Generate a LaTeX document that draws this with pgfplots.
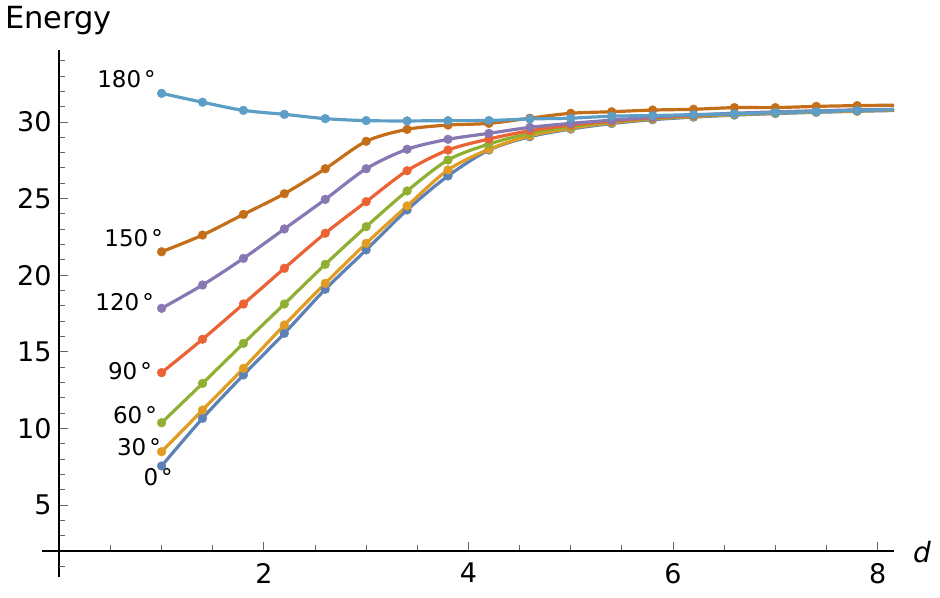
\documentclass[border=0pt]{standalone}
\usepackage{pgfplots}
\pgfplotsset{compat=1.18}
\usepackage{pgfplotstable}
\usepackage{fontspec}
\setmainfont{DejaVu Sans}
\definecolor{c0}{HTML}{5E81B5}
\definecolor{c30}{HTML}{E19C24}
\definecolor{c60}{HTML}{8FB032}
\definecolor{c90}{HTML}{EB6235}
\definecolor{c120}{HTML}{8778B3}
\definecolor{c150}{HTML}{C56E1A}
\definecolor{c180}{HTML}{5D9EC7}
\pgfplotstableread{
d    a0    a30   a60   a90   a120  a150  a180
1.0  7.55  8.48  10.37 13.64 17.84 21.53 31.87
1.4  10.66 11.20 12.94 15.82 19.36 22.62 31.29
1.8  13.49 13.92 15.55 18.12 21.10 23.97 30.76
2.2  16.21 16.75 18.12 20.45 23.02 25.32 30.50
2.6  19.08 19.47 20.71 22.74 24.95 26.95 30.22
3.0  21.65 22.08 23.17 24.80 26.95 28.74 30.09
3.4  24.26 24.52 25.50 26.82 28.22 29.52 30.07
3.8  26.48 26.87 27.52 28.17 28.87 29.80 30.09
4.2  28.17 28.22 28.56 28.89 29.26 29.91 30.10
4.6  29.04 29.10 29.26 29.43 29.65 30.25 30.20
5.0  29.54 29.60 29.70 29.80 29.91 30.57 30.25
5.4  29.90 29.95 30.00 30.05 30.12 30.67 30.38
5.8  30.15 30.20 30.22 30.27 30.32 30.78 30.42
6.2  30.32 30.36 30.38 30.42 30.46 30.83 30.48
6.6  30.45 30.48 30.50 30.53 30.57 30.94 30.53
7.0  30.55 30.58 30.60 30.62 30.66 30.94 30.62
7.4  30.63 30.66 30.68 30.70 30.73 31.02 30.68
7.8  30.70 30.72 30.74 30.76 30.79 31.07 30.76
8.16 30.75 30.77 30.79 30.80 30.83 31.10 30.80
}\datatable
\pgfplotsset{
  ln/.style={color=#1, line width=3.2bp, smooth, tension=0.5, no marks},
  mk/.style={color=#1, only marks, mark=*, mark size=4.4bp, restrict x to domain=0:7.9},
}
\begin{document}
\begin{tikzpicture}
\useasboundingbox (0,0) rectangle (940bp,598bp);
\begin{axis}[
  at={(59.3bp,47bp)}, anchor=south west,
  scale only axis, width=834.7bp, height=501bp,
  xmin=0, xmax=8.16, ymin=2, ymax=34.7,
  axis lines=left,
  axis line style={-, black, line width=1.8bp},
  clip=false,
  xtick={2,4,6,8},
  minor xtick={0.5,1,1.5,2.5,3,3.5,4.5,5,5.5,6.5,7,7.5},
  ytick={5,10,15,20,25,30},
  minor ytick={3,4,6,7,8,9,11,12,13,14,16,17,18,19,21,22,23,24,26,27,28,29,31,32,33,34},
  tick align=inside,
  major tick length=9bp, minor tick length=5.5bp,
  tick style={gray!80!black, line width=1bp},
  /pgf/number format/assume math mode=true,
  tick label style={font=\fontsize{27bp}{32bp}\selectfont, inner sep=0pt},
  xticklabel style={anchor=north, yshift=-12bp},
  yticklabel style={anchor=east, xshift=-7.5bp},
]
\addplot[ln=c0] table[x=d, y=a0] {\datatable};
\addplot[mk=c0] table[x=d, y=a0] {\datatable};
\addplot[ln=c30] table[x=d, y=a30] {\datatable};
\addplot[mk=c30] table[x=d, y=a30] {\datatable};
\addplot[ln=c60] table[x=d, y=a60] {\datatable};
\addplot[mk=c60] table[x=d, y=a60] {\datatable};
\addplot[ln=c90] table[x=d, y=a90] {\datatable};
\addplot[mk=c90] table[x=d, y=a90] {\datatable};
\addplot[ln=c120] table[x=d, y=a120] {\datatable};
\addplot[mk=c120] table[x=d, y=a120] {\datatable};
\addplot[ln=c150] table[x=d, y=a150] {\datatable};
\addplot[mk=c150] table[x=d, y=a150] {\datatable};
\addplot[ln=c180] table[x=d, y=a180] {\datatable};
\addplot[mk=c180] table[x=d, y=a180] {\datatable};
\node[anchor=east, inner sep=0pt, font=\fontsize{23bp}{27bp}\selectfont] at (axis cs:0.945,32.81) {180\kern3bp°};
\node[anchor=east, inner sep=0pt, font=\fontsize{23bp}{27bp}\selectfont] at (axis cs:1.014,22.43) {150\kern3bp°};
\node[anchor=east, inner sep=0pt, font=\fontsize{23bp}{27bp}\selectfont] at (axis cs:0.926,18.25) {120\kern3bp°};
\node[anchor=east, inner sep=0pt, font=\fontsize{23bp}{27bp}\selectfont] at (axis cs:0.906,13.75) {90\kern3bp°};
\node[anchor=east, inner sep=0pt, font=\fontsize{23bp}{27bp}\selectfont] at (axis cs:0.955,10.87) {60\kern3bp°};
\node[anchor=east, inner sep=0pt, font=\fontsize{23bp}{27bp}\selectfont] at (axis cs:0.994,8.75) {30\kern3bp°};
\node[anchor=east, inner sep=0pt, font=\fontsize{23bp}{27bp}\selectfont] at (axis cs:1.111,6.83) {0\kern3bp°};
\end{axis}
\draw[black, line width=1.8bp] (59.3bp,47bp) -- (59.3bp,21bp);
\draw[black, line width=1.8bp] (42bp,47bp) -- (59.3bp,47bp);
\draw[gray!80!black, line width=1bp] (59.3bp,31.7bp) -- (64.8bp,31.7bp);
\node[anchor=base west, inner sep=0pt, font=\fontsize{30.5bp}{34bp}\selectfont] at (5bp,569.7bp) {Energy};
\node[anchor=base west, inner sep=0pt, font=\fontsize{28bp}{32bp}\selectfont] at (913bp,36bp) {\textit{d}};
\end{tikzpicture}
\end{document}
